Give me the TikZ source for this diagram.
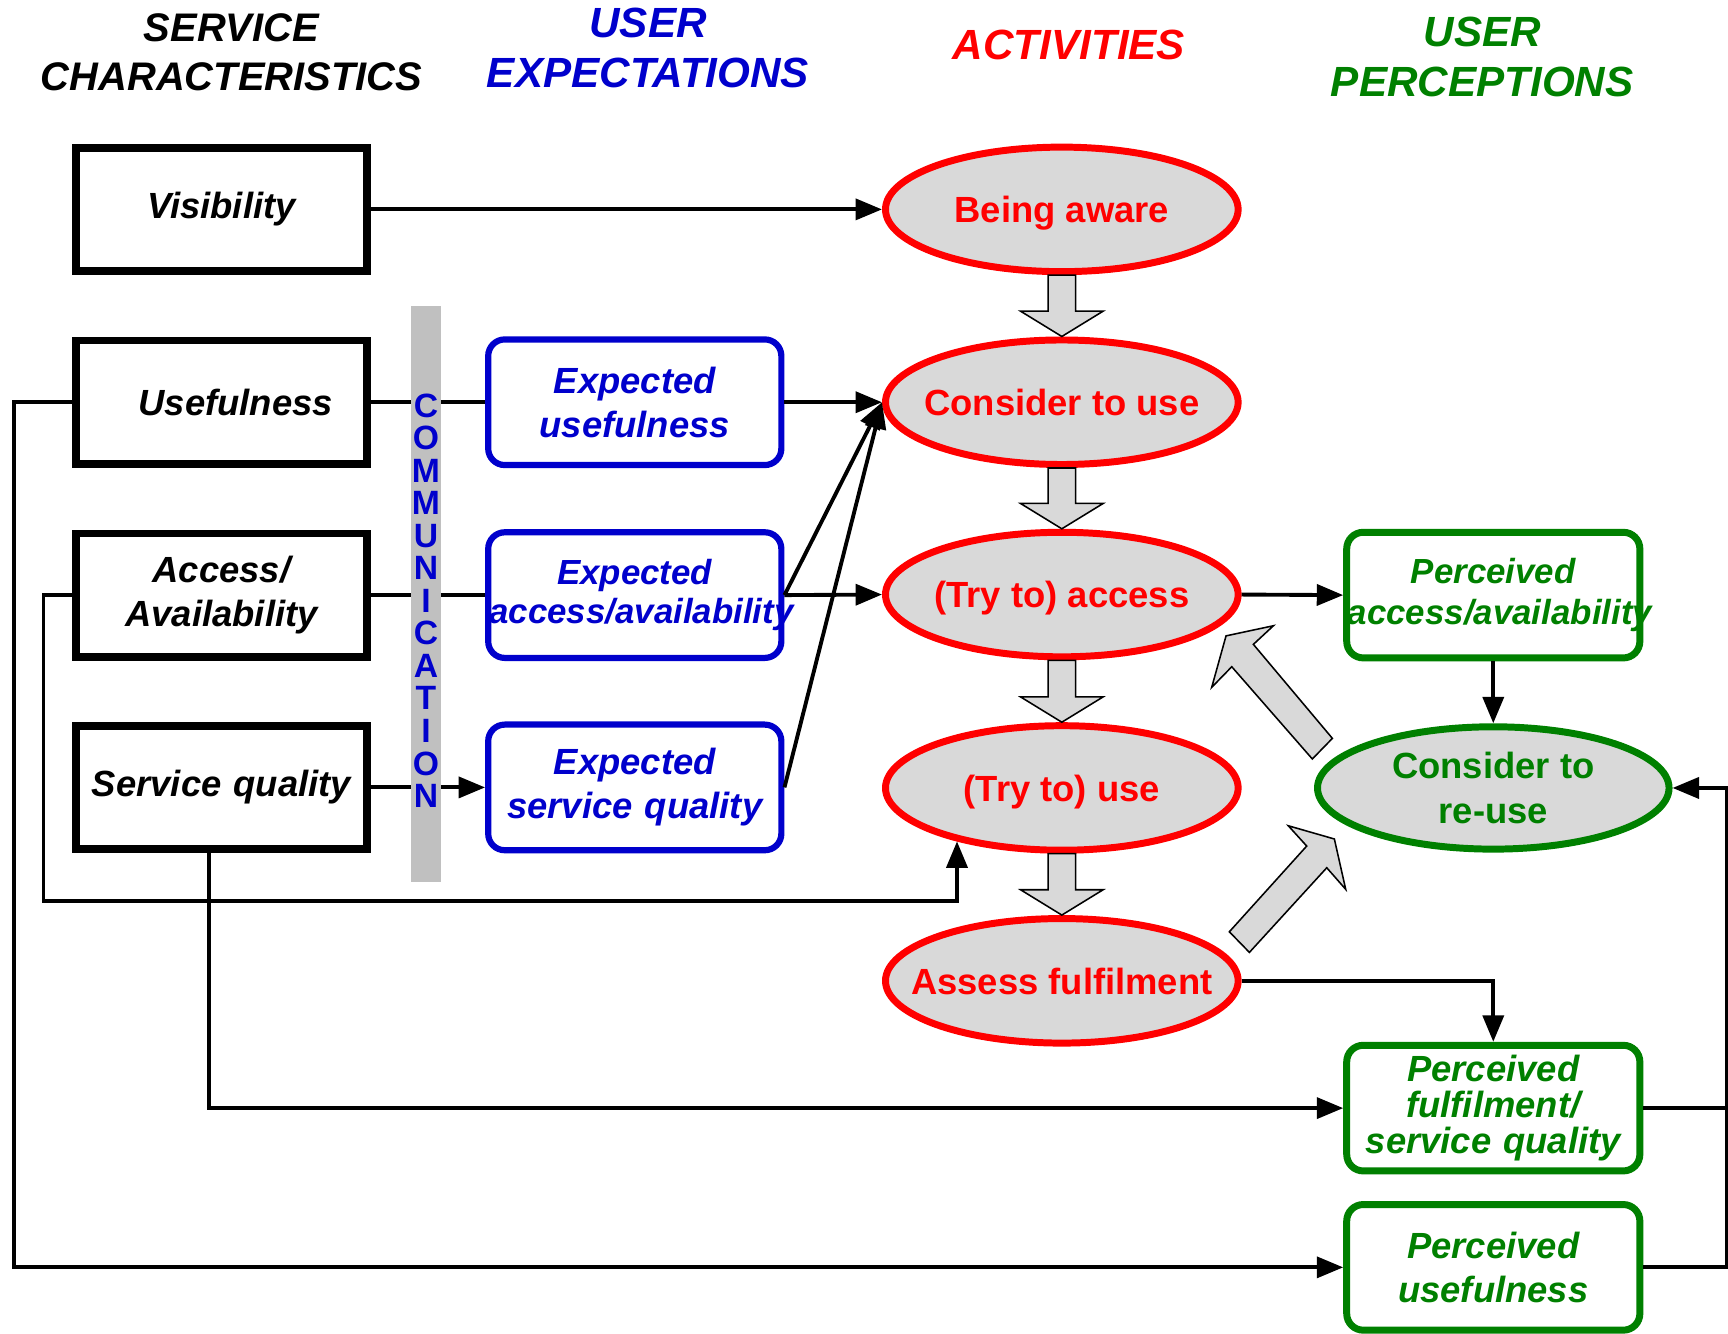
\documentclass[tikz,border=0pt]{standalone}
\usepackage{fontspec}
\setmainfont{Liberation Sans}
\usetikzlibrary{shapes.geometric,arrows.meta}
\definecolor{expblue}{RGB}{0,0,204}
\definecolor{percgreen}{RGB}{0,128,0}
\definecolor{actgray}{RGB}{217,217,217}
\definecolor{commgray}{RGB}{192,192,192}
% grey block arrow from one activity down to the next
\newcommand{\stepdown}[2]{%
  \draw [garrow] ([xshift=-1.25mm]#1.south) -- ([xshift=-1.25mm,yshift=2.3mm]#2.north)
    -- ([xshift=-3.75mm,yshift=2.3mm]#2.north) -- (#2.north)
    -- ([xshift=3.75mm,yshift=2.3mm]#2.north) -- ([xshift=1.25mm,yshift=2.3mm]#2.north)
    -- ([xshift=1.25mm]#1.south) -- cycle;}
\tikzset{
  colhead/.style={align=center, font=\bfseries\itshape\fontsize{10.9}{12.8}\selectfont},
  charbox/.style={draw, line width=2pt, minimum height=1.12cm, text width=2.5cm,
    inner sep=0.7mm, align=center,
    font=\bfseries\itshape\fontsize{9.4}{11.4}\selectfont},
  expbox/.style={draw=expblue, text=expblue, line width=1.6pt, rounded corners=1.5mm,
    minimum height=1.14cm, text width=2.5cm, inner sep=0.8mm, align=center,
    font=\bfseries\itshape\fontsize{9.4}{11.4}\selectfont},
  percbox/.style={expbox, draw=percgreen, text=percgreen, line width=1.8pt},
  act/.style={ellipse, draw=red, fill=actgray, text=red, line width=1.8pt,
    inner xsep=-2.5mm, inner ysep=0pt, text depth=0pt,
    minimum width=3.2cm, minimum height=1.13cm, align=center,
    font=\bfseries\fontsize{9.4}{11.6}\selectfont},
  garrow/.style={fill=actgray, draw=black, line width=0.4pt},
  joinline/.style={line width=1pt},
  arrowline/.style={line width=1pt, -{Triangle[length=2.4mm,width=1.9mm]}},
}

\begin{document}
\begin{tikzpicture}
\useasboundingbox (0,0) rectangle (15.68,-12.10);
% column headings
\node (hchar) [colhead,font=\bfseries\itshape\fontsize{10.3}{12.8}\selectfont] at (2.10,-0.475) {SERVICE\\CHARACTERISTICS};
\node (hexp) [colhead,text=expblue] at (5.88,-0.435) {USER\\EXPECTATIONS};
\node (hact) [colhead,text=red] at (9.70,-0.41) {ACTIVITIES};
\node (hperc) [colhead,text=percgreen] at (13.45,-0.515) {USER\\PERCEPTIONS};
% service characteristics
\node (vis) [charbox] at (2.01,-1.90) {Visibility};
\node (useful) [charbox] at (2.01,-3.65) {\hspace*{2.6mm}Usefulness};
\node (acc) [charbox] at (2.01,-5.40) {Access/\\Availability};
\node (sq) [charbox] at (2.01,-7.145) {Service quality};
% user expectations
\node (expuse) [expbox] at (5.76,-3.65) {Expected\\usefulness};
\node (expacc) [expbox,text width=2.64cm,inner xsep=0.1mm,font=\bfseries\itshape\fontsize{9}{10.2}\selectfont] at (5.76,-5.40) {Expected\\access/availability};
\node (expsq) [expbox] at (5.76,-7.145) {Expected\\service quality};
% activities
\node (aware) [act] at (9.635,-1.90) {Being aware};
\node (consider) [act] at (9.635,-3.65) {Consider to use};
\node (tryacc) [act] at (9.635,-5.395) {(Try to) access};
\node (tryuse) [act] at (9.635,-7.15) {(Try to) use};
\node (assess) [act] at (9.635,-8.90) {Assess fulfilment};
% user perceptions
\node (percacc) [percbox,text width=2.64cm,inner xsep=0.1mm,font=\bfseries\itshape\fontsize{9}{10.4}\selectfont] at (13.55,-5.40) {Perceived\\access/availability};
\node (reuse) [act,draw=percgreen,text=percgreen,minimum width=3.19cm,minimum height=1.11cm] at (13.55,-7.15) {Consider to\\re-use};
\node (percful) [percbox,font=\bfseries\itshape\fontsize{9.4}{9.2}\selectfont] at (13.55,-10.055) {Perceived\\fulfilment/\\service quality};
\node (percuse) [percbox] at (13.55,-11.50) {Perceived\\usefulness};
% grey block arrows
\stepdown{aware}{consider}
\stepdown{consider}{tryacc}
\stepdown{tryacc}{tryuse}
\stepdown{tryuse}{assess}
\draw [garrow] (11.125,-5.77) -- (11.555,-5.678) -- (11.373,-5.847) -- (12.09,-6.70)
  -- (11.908,-6.887) -- (11.177,-6.05) -- (10.995,-6.237) -- cycle;
\draw [garrow] (12.108,-7.613) -- (11.69,-7.493) -- (11.857,-7.677) -- (11.155,-8.455)
  -- (11.337,-8.642) -- (12.039,-7.874) -- (12.211,-8.07) -- cycle;
% connectors
\draw [arrowline] (vis.east) -- (aware.west);
\draw [joinline] (useful.east) -- (expuse.west);
\draw [arrowline] (expuse.east) -- (consider.west);
\draw [joinline] (acc.east) -- (expacc.west);
\draw [arrowline] (expacc.east) -- (tryacc.west);
\draw [arrowline] (expacc.east) -- (consider.west);
\draw [arrowline] (expsq.east) -- (consider.west);
\draw [arrowline] (sq.east) -- (expsq.west);
\draw [arrowline] (useful.west) -- ++(-0.53,0) |- (percuse.west);
\draw [arrowline] (acc.west) -- ++(-0.26,0) |- ([yshift=-5.4mm]tryuse.207) -- (tryuse.207);
\draw [arrowline] ([xshift=-1.1mm]sq.south) |- (percful.west);
\draw [arrowline] (assess.east) -| (percful.north);
\draw [arrowline] (tryacc.east) -- (percacc.west);
\draw [arrowline] (percacc.south) -- (reuse.north);
\draw [arrowline] (percful.east) -- ++(0.76,0) |- (reuse.east);
\draw [joinline] (percuse.east) -| ([xshift=7.6mm]percful.east);
% communication bar
\node (commbar) [fill=commgray, minimum width=0.27cm, minimum height=5.22cm, inner sep=0pt]
  at (3.865,-5.39) {};
\node (comm) [text=expblue, inner sep=0pt, align=center,
  font=\bfseries\fontsize{8.7}{8.4}\selectfont]
  at (3.865,-5.45) {C\\O\\M\\M\\U\\N\\I\\C\\A\\T\\I\\O\\N};
\end{tikzpicture}
\end{document}
